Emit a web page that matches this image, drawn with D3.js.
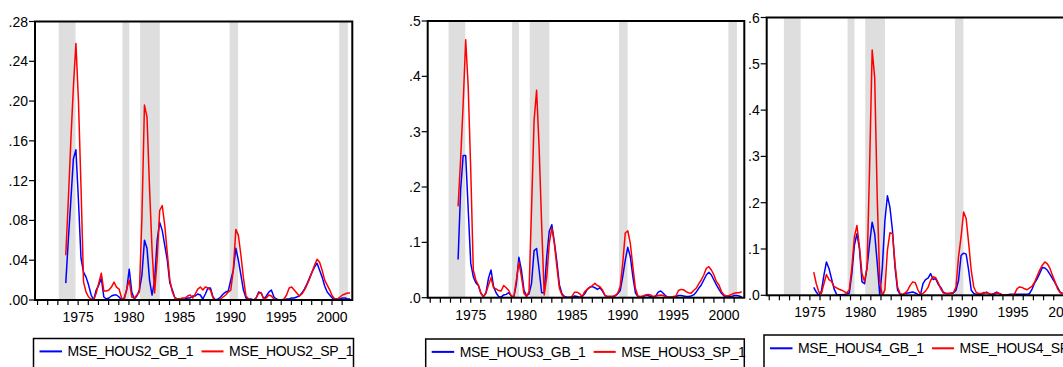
<!DOCTYPE html>
<html><head><meta charset="utf-8">
<script src="https://cdn.jsdelivr.net/npm/d3@7"></script>
<style>html,body{margin:0;padding:0;background:#fff;overflow:hidden}</style>
</head><body><svg id="c" width="1063" height="367"></svg>
<script>
// ---------------- DATA ----------------
const recessions = [[1972.81,1974.46],[1979.08,1979.76],[1980.82,1982.76],[1989.64,1990.48],[2000.43,2001.28]];
const yearTicks = d3.range(1971, 2002);
const yearLabels = [1975, 1980, 1985, 1990, 1995, 2000];

const namesHous2 = ["MSE_HOUS2_GB_1", "MSE_HOUS2_SP_1"];
const namesHous3 = ["MSE_HOUS3_GB_1", "MSE_HOUS3_SP_1"];
const namesHous4 = ["MSE_HOUS4_GB_1", "MSE_HOUS4_SP_1"];

const yTicksHous2 = [0, .04, .08, .12, .16, .20, .24, .28];
const yTicksHous3 = [0, .1, .2, .3, .4, .5];
const yTicksHous4 = [0, .1, .2, .3, .4, .5, .6];

// quarterly series, first quarter given by start year
const hous2Start = 1973.5;
const hous2GB = [.017,.06,.10,.142,.151,.10,.042,.028,.023,.015,
 .005,0,.010,.015,.022,.003,.001,.002,.004,.005,
 .005,.003,0,.002,.010,.031,.008,.001,.004,.010,
 .025,.060,.052,.020,.005,.020,.060,.078,.070,.055,
 .040,.017,.010,.002,.001,.001,.001,.001,.002,.002,
 .004,.004,.006,.005,.001,.006,.012,.012,.003,0,
 .001,.003,.006,.008,.009,.020,.030,.052,.040,.025,
 .010,.002,.001,.001,0,.002,.008,.007,.001,.004,
 .008,.010,.003,.001,0,0,0,.001,.001,.002,
 .002,.003,.004,.007,.011,.016,.022,.028,.033,.037,
 .030,.023,.014,.008,.005,.002,.001,.001,.001,.002,
 .002,.001,.001];
const hous2SP = [.045,.10,.16,.214,.258,.20,.114,.018,.008,.003,
 .001,0,.007,.017,.027,.009,.009,.010,.013,.018,
 .013,.011,.002,0,.011,.020,.003,.002,.005,.008,
 .083,.196,.184,.113,.050,.007,.041,.090,.095,.075,
 .047,.020,.008,.002,.001,.001,.002,.002,.004,.005,
 .002,.006,.011,.013,.010,.013,.012,.010,.002,0,
 0,.001,.003,.005,.008,.010,.030,.071,.065,.045,
 .022,.004,.001,0,0,.002,.007,.007,.001,.002,
 .005,.004,.001,0,0,0,.001,.005,.012,.013,
 .010,.007,.004,.006,.010,.015,.021,.028,.035,.041,
 .038,.030,.020,.015,.010,.004,.001,.001,.003,.005,
 .006,.007,.007];

const hous3Start = 1973.75;
const hous3GB = [.069,.195,.257,.257,.159,.062,.038,.027,.022,.008,
 .002,.009,.035,.050,.020,.009,.002,.001,.005,.006,
 .009,.003,.001,.025,.073,.050,.014,.003,.007,.026,
 .085,.089,.050,.009,.009,.074,.120,.132,.101,.065,
 .023,.007,.002,.001,.001,.001,.003,.002,.001,.002,
 .007,.015,.019,.020,.018,.015,.018,.012,.004,.002,
 .002,.002,.003,.007,.013,.038,.068,.091,.074,.038,
 .009,.002,.001,.002,.004,.004,.002,.001,.003,.010,
 .012,.008,.003,.001,.001,.001,.002,.004,.004,.003,
 .002,.002,.003,.005,.010,.017,.023,.032,.041,.046,
 .041,.032,.023,.015,.008,.003,.002,.002,.002,.004,
 .004,.003,.001];
const hous3SP = [.165,.25,.35,.466,.38,.23,.05,.032,.023,.008,
 .002,.008,.023,.036,.018,.016,.013,.012,.022,.018,
 .013,.003,.001,.032,.064,.038,.008,.002,.011,.16,
 .32,.375,.27,.13,.005,.038,.098,.126,.098,.056,
 .017,.005,.001,0,0,.003,.010,.010,.007,.002,
 .011,.015,.019,.022,.026,.022,.020,.014,.004,.002,
 .002,.002,.004,.008,.020,.062,.117,.121,.098,.056,
 .017,.003,.002,.003,.005,.006,.005,.002,.003,.004,
 .005,.004,.002,.001,.001,.002,.003,.013,.015,.0145,
 .011,.009,.008,.013,.017,.025,.032,.041,.053,.056,
 .050,.041,.029,.023,.011,.005,.003,.004,.006,.008,
 .009,.009,.011];

const hous4Start = 1975.75;
const hous4GB = [.017,.007,0,.009,.043,.072,.058,.036,.014,.002,
 .001,.001,.002,.003,.005,.047,.108,.133,.10,.029,
 .025,.061,.112,.158,.133,.07,0,.06,.16,.215,
 .19,.14,.06,.011,.002,.001,.004,.005,.006,.007,
 .005,.002,.001,.025,.034,.037,.047,.034,.036,.024,
 .017,.007,.004,.004,.004,.005,.011,.032,.086,.091,
 .089,.054,.011,.004,.002,.002,.003,.004,.007,.003,
 .002,.004,.007,.004,.002,.001,.001,.002,.002,.002,
 .002,.002,.002,.002,.002,.004,.014,.027,.036,.048,
 .060,.059,.054,.045,.036,.027,.017,.007,.004];
const hous4SP = [.05,.025,.007,.004,.025,.045,.034,.030,.019,.016,
 .013,.011,.008,.005,.012,.06,.126,.151,.104,.047,
 .03,.06,.28,.53,.47,.21,.03,0,.011,.097,
 .135,.133,.068,.018,.004,.002,.005,.011,.022,.029,
 .027,.012,.002,.004,.009,.017,.032,.04,.038,.027,
 .014,.005,.004,.004,.005,.006,.018,.083,.126,.18,
 .166,.112,.054,.018,.006,.004,.004,.006,.005,.004,
 .002,.002,.005,.004,.002,.001,0,0,.001,.002,
 .014,.018,.017,.014,.012,.016,.02,.029,.042,.055,
 .065,.072,.068,.058,.043,.029,.014,.006,.003];

// ---------------- LAYOUT ----------------
const panels = [
  {left:35, right:352.3, top:21.5, bottom:300, yMax:.28, yTicks:yTicksHous2, yDigits:2, shift:0.28,
   start:hous2Start, gb:hous2GB, sp:hous2SP, names:namesHous2, legX:33.5, legY:338.5, legW:320},
  {left:427.7, right:744.3, top:21, bottom:297.7, yMax:.5, yTicks:yTicksHous3, yDigits:1, shift:0,
   start:hous3Start, gb:hous3GB, sp:hous3SP, names:namesHous3, legX:425.7, legY:339, legW:318.6},
  {left:766.7, right:1084.2, top:17.5, bottom:295.3, yMax:.6, yTicks:yTicksHous4, yDigits:1, shift:-0.37,
   start:hous4Start, gb:hous4GB, sp:hous4SP, names:namesHous4, legX:764, legY:335, legW:400}
];
const FONT = "'Liberation Sans', Arial, sans-serif";
const svg = d3.select("#c");
svg.append("rect").attr("width",1063).attr("height",367).attr("fill","#fff");

panels.forEach((p, k) => {
  const x = d3.scaleLinear().domain([1970.75, 2002.0]).range([p.left, p.right]);
  const y = d3.scaleLinear().domain([0, p.yMax]).range([p.bottom, p.top]);
  const g = svg.append("g");
  const clipId = "clip" + k;
  g.append("clipPath").attr("id", clipId).append("rect")
    .attr("x", p.left).attr("y", p.top).attr("width", p.right - p.left).attr("height", p.bottom - p.top);
  const plot = g.append("g").attr("clip-path", `url(#${clipId})`);
  plot.selectAll("rect.band").data(recessions).join("rect").attr("class","band")
    .attr("x", d => x(d[0] + p.shift)).attr("width", d => x(d[1] + p.shift) - x(d[0] + p.shift))
    .attr("y", p.top).attr("height", p.bottom - p.top).attr("fill", "#dedede");
  const mk = arr => arr.map((v, i) => [p.start + i * 0.25, v]);
  const line = d3.line().x(d => x(d[0] + p.shift)).y(d => y(d[1]));
  [[p.gb, "#0000ff"], [p.sp, "#ff0000"]].forEach(([arr, col]) => {
    plot.append("path").datum(mk(arr)).attr("d", line).attr("fill", "none")
      .attr("stroke", col).attr("stroke-width", 1.5).attr("stroke-linejoin", "round");
  });
  // frame
  g.append("rect").attr("x", p.left).attr("y", p.top).attr("width", p.right - p.left)
    .attr("height", p.bottom - p.top).attr("fill", "none").attr("stroke", "#000").attr("stroke-width", 2);
  // y axis
  const fmt = v => d3.format("." + p.yDigits + "f")(v).replace(/^0/, "");
  g.selectAll("line.yt").data(p.yTicks).join("line").attr("class","yt")
    .attr("x1", p.left - 6).attr("x2", p.left).attr("y1", d => y(d)).attr("y2", d => y(d))
    .attr("stroke", "#000").attr("stroke-width", 1.2);
  g.selectAll("text.yl").data(p.yTicks).join("text").attr("class","yl")
    .attr("x", p.left - 7).attr("y", d => y(d) + 5).attr("text-anchor", "end")
    .attr("font-family", FONT).attr("font-size", 14).attr("fill", "#000").text(fmt);
  // x axis
  g.selectAll("line.xt").data(yearTicks).join("line").attr("class","xt")
    .attr("x1", d => x(d)).attr("x2", d => x(d)).attr("y1", p.bottom).attr("y2", p.bottom + 5)
    .attr("stroke", "#000").attr("stroke-width", 1.2);
  g.selectAll("text.xl").data(yearLabels).join("text").attr("class","xl")
    .attr("x", d => x(d)).attr("y", p.bottom + 22).attr("text-anchor", "middle")
    .attr("font-family", FONT).attr("font-size", 14).attr("fill", "#000").text(d => d);
  // legend
  const lg = g.append("g").attr("transform", `translate(${p.legX},${p.legY})`);
  lg.append("rect").attr("width", p.legW).attr("height", 40).attr("fill", "#fff")
    .attr("stroke", "#000").attr("stroke-width", 1.5);
  const ly = k === 2 ? 13.3 : 12.9;
  [[6, 28.5, 34, "#0000ff", p.names[0]], [168, 190, 195.5, "#ff0000", p.names[1]]].forEach(([a, b, t, col, name]) => {
    lg.append("line").attr("x1", a).attr("x2", b).attr("y1", ly).attr("y2", ly)
      .attr("stroke", col).attr("stroke-width", 2);
    lg.append("text").attr("x", t).attr("y", ly + 5).attr("font-family", FONT).attr("font-size", 14)
      .attr("letter-spacing", "-0.3px").attr("fill", "#000").text(name);
  });
});
</script></body></html>
